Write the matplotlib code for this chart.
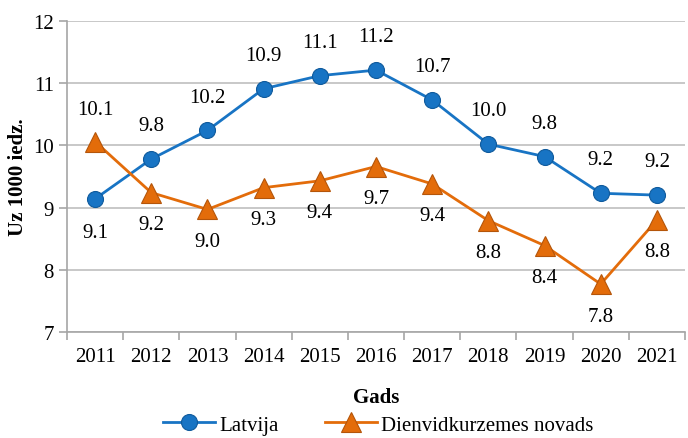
import numpy as np
import matplotlib
matplotlib.use("Agg")
import matplotlib.pyplot as plt

plt.rcParams["font.family"] = ["Liberation Serif", "DejaVu Serif"]

years = ["2011", "2012", "2013", "2014", "2015", "2016", "2017", "2018", "2019", "2020", "2021"]
latvija = [9.14, 9.78, 10.24, 10.91, 11.12, 11.21, 10.73, 10.02, 9.82, 9.23, 9.2]
dienvid = [10.06, 9.24, 8.97, 9.32, 9.43, 9.66, 9.38, 8.79, 8.39, 7.77, 8.8]
# label placement: 1 = above the marker, -1 = below
latvija_pos = [-1, 1, 1, 1, 1, 1, 1, 1, 1, 1, 1]
dienvid_pos = [1, -1, -1, -1, -1, -1, -1, -1, -1, -1, -1]

BLUE = "#1874C4"
ORANGE = "#E36C0A"
GRID = "#BFBFBF"
FS = 15

fig = plt.figure(figsize=(6.88, 4.39), dpi=100)
ax = fig.add_axes([0.0974, 0.2415, 0.8982, 0.7085])

x = np.arange(len(years))
ax.plot(x, latvija, "-o", color=BLUE, linewidth=2, markersize=11.5,
        markerfacecolor=BLUE, markeredgecolor="#0F5A9C", markeredgewidth=0.8,
        label="Latvija", zorder=3)
ax.plot(x, dienvid, "-^", color=ORANGE, linewidth=2, markersize=14,
        markerfacecolor=ORANGE, markeredgecolor="#B4550A", markeredgewidth=0.8,
        label="Dienvidkurzemes novads", zorder=3)

for xi, v, p in zip(x, latvija, latvija_pos):
    ax.annotate(f"{v:.1f}", (xi, v), xytext=(0, 24 * p), textcoords="offset points",
                ha="center", va="center", fontsize=FS)
for xi, v, p in zip(x, dienvid, dienvid_pos):
    ax.annotate(f"{v:.1f}", (xi, v), xytext=(0, 23 * p), textcoords="offset points",
                ha="center", va="center", fontsize=FS)

ax.set_xlim(-0.5, len(years) - 0.5)
ax.set_ylim(7, 12)
ax.set_yticks(range(7, 13))
ax.set_xticks(x)
ax.set_xticklabels(years)
ax.set_xticks(np.arange(-0.5, len(years)), minor=True)
ax.tick_params(axis="x", which="major", length=0, labelsize=FS, pad=11)
ax.tick_params(axis="x", which="minor", length=6, color="#A6A6A6", width=1.2)
ax.tick_params(axis="y", length=6, color="#A6A6A6", width=1.2, labelsize=FS)

ax.grid(axis="y", color=GRID, linewidth=1.2)
ax.set_axisbelow(True)
for s in ["top", "right"]:
    ax.spines[s].set_visible(False)
for s in ["left", "bottom"]:
    ax.spines[s].set_color("#A6A6A6")
    ax.spines[s].set_linewidth(1.2)

ax.set_xlabel("Gads", fontsize=FS, fontweight="bold", labelpad=15)
ax.set_ylabel("Uz 1000 iedz.", fontsize=FS, fontweight="bold", labelpad=4)

fig.legend(loc="lower center", bbox_to_anchor=(0.55, -0.035), ncol=2, frameon=False,
           fontsize=FS, handlelength=2.5, columnspacing=2.2, handletextpad=0.2)

fig.savefig("out.png", dpi=100)
